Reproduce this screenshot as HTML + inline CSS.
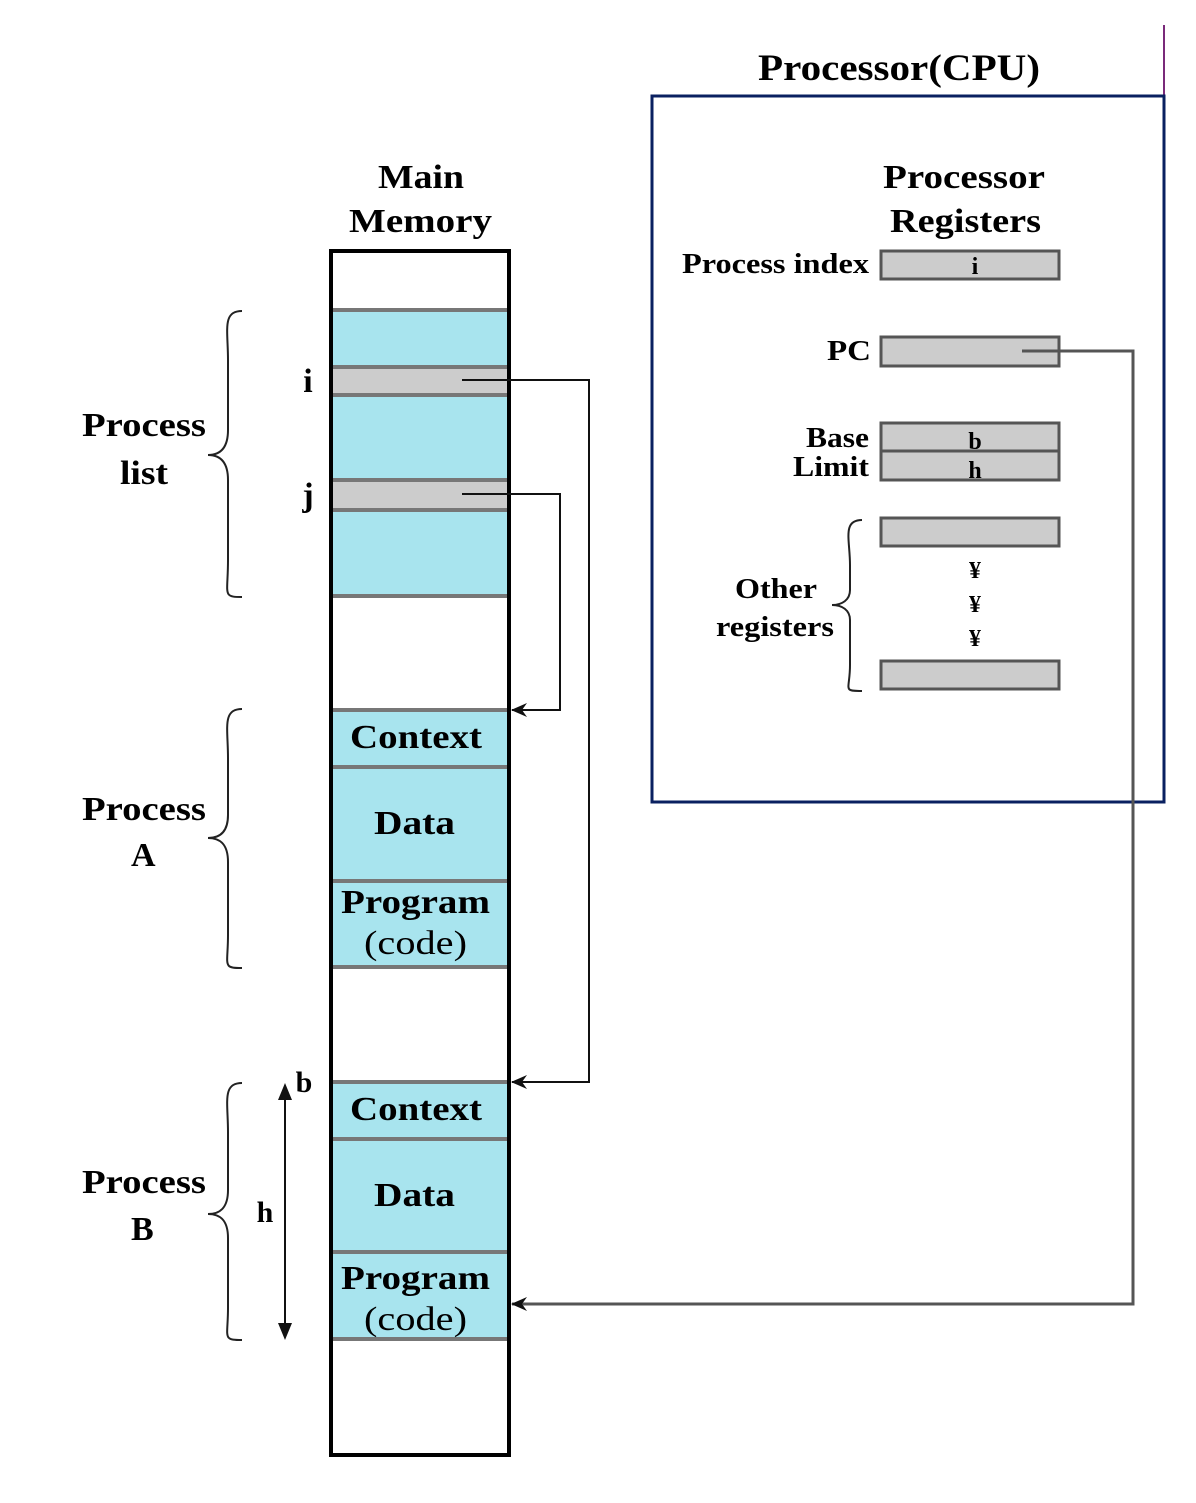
<!DOCTYPE html>
<html><head><meta charset="utf-8"><style>body{margin:0;background:#fff}svg{display:block}</style></head><body>
<svg width="1196" height="1503" viewBox="0 0 1196 1503" xmlns="http://www.w3.org/2000/svg" font-family="Liberation Serif, serif" font-weight="bold">
<defs><marker id="ah" markerWidth="16" markerHeight="14" refX="15" refY="7" orient="auto" markerUnits="userSpaceOnUse"><path d="M0,0 L16,7 L0,14 L5,7 Z" fill="#111"/></marker></defs>
<!-- CPU box -->
<line x1="1164" y1="25" x2="1164" y2="96" stroke="#7a2a7a" stroke-width="2"/>
<rect x="652" y="96" width="512" height="706" fill="none" stroke="#0a2060" stroke-width="3"/>
<text x="758" y="80" font-size="37" textLength="282" lengthAdjust="spacingAndGlyphs" fill="#000">Processor(CPU)</text>
<text x="883" y="188" font-size="34" textLength="162" lengthAdjust="spacingAndGlyphs">Processor</text>
<text x="890" y="232" font-size="34" textLength="151" lengthAdjust="spacingAndGlyphs">Registers</text>
<g fill="#cccccc" stroke="#555" stroke-width="3">
<rect x="881" y="251" width="178" height="28"/>
<rect x="881" y="337" width="178" height="29"/>
<rect x="881" y="423" width="178" height="28"/>
<rect x="881" y="451" width="178" height="29"/>
<rect x="881" y="518" width="178" height="28"/>
<rect x="881" y="661" width="178" height="28"/>
</g>
<g font-size="28">
<text x="682" y="273" textLength="187" lengthAdjust="spacingAndGlyphs">Process index</text>
<text x="827" y="360" textLength="44" lengthAdjust="spacingAndGlyphs">PC</text>
<text x="806" y="447" textLength="63" lengthAdjust="spacingAndGlyphs">Base</text>
<text x="793" y="476" textLength="76" lengthAdjust="spacingAndGlyphs">Limit</text>
<text x="735" y="598" textLength="82" lengthAdjust="spacingAndGlyphs">Other</text>
<text x="716" y="636" textLength="118" lengthAdjust="spacingAndGlyphs">registers</text>
</g>
<g font-size="24" text-anchor="middle">
<text x="975" y="274">i</text>
<text x="975" y="449">b</text>
<text x="975" y="478">h</text>
<text x="975" y="578">¥</text>
<text x="975" y="612">¥</text>
<text x="975" y="646">¥</text>
</g>
<path d="M862,520 C842,520 850,540 850,565 L850,590 C850,600 842,605 832,605 C842,605 850,610 850,620 L850,665 C850,690 842,691 862,691" fill="none" stroke="#222" stroke-width="2"/>
<!-- Memory -->
<text x="378" y="188" font-size="34" textLength="86" lengthAdjust="spacingAndGlyphs">Main</text>
<text x="349" y="232" font-size="34" textLength="143" lengthAdjust="spacingAndGlyphs">Memory</text>
<g fill="#a8e4ee">
<rect x="331" y="309" width="178" height="288"/>
<rect x="331" y="709" width="178" height="259"/>
<rect x="331" y="1081" width="178" height="259"/>
</g>
<g fill="#cccccc"><rect x="331" y="367" width="178" height="28"/><rect x="331" y="481" width="178" height="28"/></g>
<g stroke="#777" stroke-width="4">
<line x1="331" y1="310" x2="509" y2="310"/><line x1="331" y1="367" x2="509" y2="367"/><line x1="331" y1="395" x2="509" y2="395"/>
<line x1="331" y1="480" x2="509" y2="480"/><line x1="331" y1="510" x2="509" y2="510"/><line x1="331" y1="596" x2="509" y2="596"/>
<line x1="331" y1="710" x2="509" y2="710"/><line x1="331" y1="767" x2="509" y2="767"/><line x1="331" y1="881" x2="509" y2="881"/><line x1="331" y1="967" x2="509" y2="967"/>
<line x1="331" y1="1082" x2="509" y2="1082"/><line x1="331" y1="1139" x2="509" y2="1139"/><line x1="331" y1="1252" x2="509" y2="1252"/><line x1="331" y1="1339" x2="509" y2="1339"/>
</g>
<rect x="331" y="251" width="178" height="1204" fill="none" stroke="#000" stroke-width="4"/>
<g font-size="34">
<text x="350" y="748" textLength="132" lengthAdjust="spacingAndGlyphs">Context</text>
<text x="374" y="834" textLength="81" lengthAdjust="spacingAndGlyphs">Data</text>
<text x="341" y="913" textLength="149" lengthAdjust="spacingAndGlyphs">Program</text>
<text x="364" y="954" textLength="103" lengthAdjust="spacingAndGlyphs" font-weight="normal">(code)</text>
<text x="350" y="1120" textLength="132" lengthAdjust="spacingAndGlyphs">Context</text>
<text x="374" y="1206" textLength="81" lengthAdjust="spacingAndGlyphs">Data</text>
<text x="341" y="1289" textLength="149" lengthAdjust="spacingAndGlyphs">Program</text>
<text x="364" y="1330" textLength="103" lengthAdjust="spacingAndGlyphs" font-weight="normal">(code)</text>
<text x="82" y="436" textLength="124" lengthAdjust="spacingAndGlyphs">Process</text>
<text x="120" y="484" textLength="48" lengthAdjust="spacingAndGlyphs">list</text>
<text x="82" y="820" textLength="124" lengthAdjust="spacingAndGlyphs">Process</text>
<text x="131" y="866">A</text>
<text x="82" y="1193" textLength="124" lengthAdjust="spacingAndGlyphs">Process</text>
<text x="131" y="1240">B</text>
</g>
<g font-size="34" text-anchor="middle">
<text x="308" y="392">i</text>
<text x="308" y="506">j</text>
<text x="304" y="1092" font-size="30">b</text>
<text x="265" y="1222" font-size="30">h</text>
</g>
<!-- braces -->
<g fill="none" stroke="#222" stroke-width="2">
<path d="M242,311 C222,311 228,330 228,360 L228,430 C228,448 220,455 208,455 C220,455 228,462 228,480 L228,560 C228,595 222,597 242,597"/>
<path d="M242,709 C222,709 228,728 228,758 L228,815 C228,832 220,838 208,838 C220,838 228,844 228,862 L228,935 C228,966 222,968 242,968"/>
<path d="M242,1083 C222,1083 228,1102 228,1132 L228,1190 C228,1208 220,1214 208,1214 C220,1214 228,1220 228,1238 L228,1308 C228,1338 222,1340 242,1340"/>
</g>
<!-- connectors -->
<g fill="none" stroke="#111" stroke-width="2">
<polyline points="462,380 589,380 589,1082 512,1082" marker-end="url(#ah)"/>
<polyline points="462,494 560,494 560,710 512,710" marker-end="url(#ah)"/>
</g>
<polyline points="1022,351 1133,351 1133,1304 512,1304" fill="none" stroke="#555" stroke-width="3" marker-end="url(#ah)"/>
<line x1="285" y1="1098" x2="285" y2="1324" stroke="#111" stroke-width="2"/>
<path d="M285,1083 L278,1100 L292,1100 Z M285,1340 L278,1323 L292,1323 Z" fill="#111"/>
</svg>
</body></html>
